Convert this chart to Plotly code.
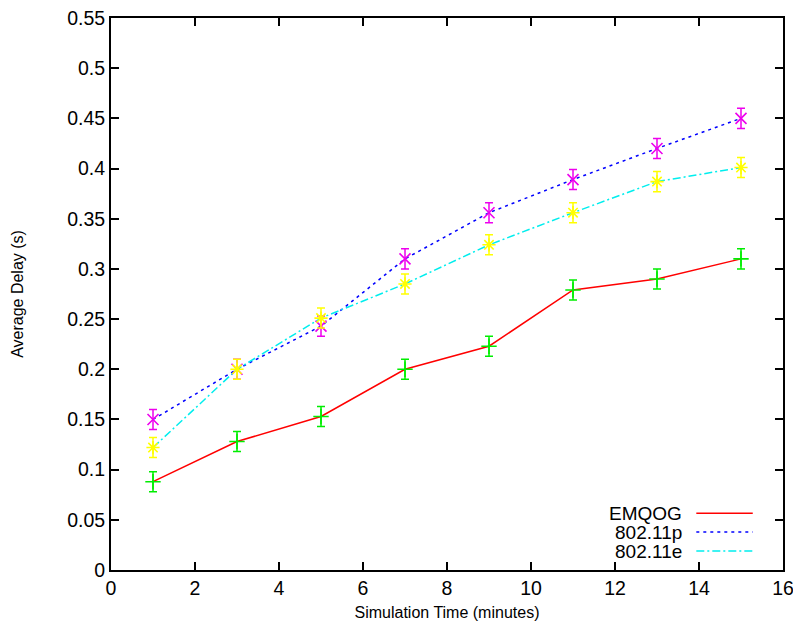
import plotly.graph_objects as go

time_min = [1, 3, 5, 7, 9, 11, 13, 15]
emqog = [0.088, 0.128, 0.153, 0.200, 0.223, 0.279, 0.290, 0.310]
p80211 = [0.150, 0.200, 0.243, 0.310, 0.356, 0.389, 0.420, 0.450]
e80211 = [0.122, 0.200, 0.251, 0.285, 0.324, 0.356, 0.387, 0.401]
emqog_err = [0.010] * 8
p_err = [0.010] * 8
e_err = [0.010] * 8

series = [
    ("EMQOG", emqog, emqog_err, "#ff0000", "solid", "#00ee00", "cross-thin"),
    ("802.11p", p80211, p_err, "#0000ff", "3px,4px", "#ee00ee", "x-thin"),
    ("802.11e", e80211, e_err, "#00eeee", "8px,3px,2px,3px", "#ffff00", "asterisk"),
]

fig = go.Figure()
for name, y, err, lc, dash, mc, sym in series:
    fig.add_trace(go.Scatter(
        x=time_min, y=y, mode="lines", name=name,
        line=dict(color=lc, width=1.5, dash=dash), showlegend=False))
    fig.add_trace(go.Scatter(
        x=time_min, y=y, mode="markers", name=name,
        marker=dict(symbol=sym, size=11, color=mc, line=dict(color=mc, width=1.6)),
        error_y=dict(type="data", array=err, visible=True, color=mc, thickness=1.5, width=4),
        showlegend=False))

# manual gnuplot-style legend (text right, sample line after)
legend_rows = [0.103, 0.0688, 0.0344]
for (name, y, err, lc, dash, mc, sym), ry in zip(series, legend_rows):
    fig.add_annotation(x=0.853, y=ry, xref="paper", yref="paper", text=name,
                       showarrow=False, xanchor="right", yanchor="middle",
                       font=dict(size=19, color="black", family="Liberation Sans"))
    fig.add_shape(type="line", xref="paper", yref="paper", x0=0.871, x1=0.955,
                  y0=ry, y1=ry, line=dict(color=lc, width=1.5, dash=dash))

axis_common = dict(showline=True, linecolor="black", linewidth=2, mirror="ticks",
                   ticks="inside", ticklen=8, tickwidth=2, tickcolor="black",
                   showgrid=False, zeroline=False, automargin=False,
                   ticklabeloverflow="allow",
                   tickfont=dict(size=19.5, family="Liberation Sans", color="black"))

title_font = dict(size=16, family="Liberation Sans", color="black")

fig.update_xaxes(range=[0, 16], dtick=2, tick0=0,
                 title=dict(text="Simulation Time (minutes)", standoff=8, font=title_font),
                 **axis_common)
fig.update_yaxes(range=[0, 0.55], dtick=0.05, tick0=0, tickformat="~g",
                 title=dict(text="Average Delay (s)", standoff=40, font=title_font),
                 **axis_common)

fig.update_layout(width=793, height=633, paper_bgcolor="white", plot_bgcolor="white",
                  margin=dict(l=111, r=10, t=18, b=63), showlegend=False)

fig.write_html("out.html")
